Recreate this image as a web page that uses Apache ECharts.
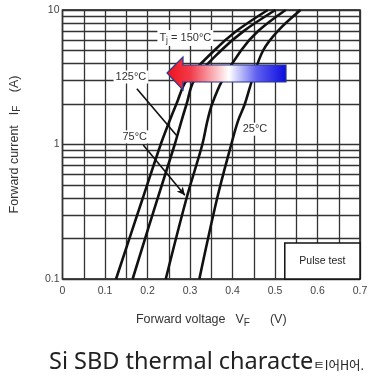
<!DOCTYPE html>
<html><head><meta charset="utf-8">
<script src="https://cdn.jsdelivr.net/npm/echarts@6/dist/echarts.min.js"></script>
<style>html,body{margin:0;padding:0;background:#fff}#c{width:373px;height:379px}</style>
</head><body><div id="c"></div>
<script>
// Data
var currents = [0.1, 0.4, 1, 1.5, 2, 3, 5, 7, 10];              // IF (A)
var vf150 = [0.126, 0.189, 0.231, 0.252, 0.268, 0.292, 0.357, 0.410, 0.483];
var vf125 = [0.165, 0.224, 0.264, 0.280, 0.292, 0.310, 0.373, 0.427, 0.501];
var vf75  = [0.243, 0.292, 0.329, 0.341, 0.352, 0.376, 0.420, 0.461, 0.525];
var vf25  = [0.322, 0.364, 0.397, 0.413, 0.429, 0.446, 0.472, 0.507, 0.560];
var xTicks = [0, 0.1, 0.2, 0.3, 0.4, 0.5, 0.6, 0.7];
var yTicks = [0.1, 1, 10];
var minorY = [0.2,0.3,0.4,0.5,0.6,0.7,0.8,0.9,2,3,4,5,6,7,8,9];

function pairs(v){ return v.map(function(x,i){ return [x, currents[i]]; }); }

var chart = echarts.init(document.getElementById('c'));
var F = '"Liberation Sans", Arial, sans-serif';
function curve(name, v){
  return { name: name, type: 'line', data: pairs(v), smooth: 0.35, showSymbol: false, z: 5,
    lineStyle: { color: '#111', width: 2.6 }, silent: true };
}
var lblStyle = { color: '#333', fontSize: 11, fontFamily: F, backgroundColor: '#fff', padding: [1, 2] };
var nameRich = { a: { fontSize: 12.5, color: '#333', fontFamily: F }, s: { fontSize: 10, color: '#333', fontFamily: F, padding: [6,0,0,0] } };

var option = {
  animation: false,
  backgroundColor: '#fff',
  grid: { left: 61, right: 13, top: 10, bottom: 100, show: true, borderColor: '#111', borderWidth: 1.5, backgroundColor: 'transparent' },
  xAxis: {
    type: 'value', min: 0, max: 0.7, interval: 0.1,
    axisLine: { show: false }, axisTick: { show: false },
    axisLabel: { color: '#444', fontSize: 10.5, fontFamily: F, margin: 7,
      formatter: function(v){ var t = xTicks.filter(function(a){return Math.abs(a-v)<1e-6;}); return t.length? String(t[0]) : ''; } },
    splitLine: { show: true, lineStyle: { color: '#333', width: 1.3 } },
    minorTick: { show: false, splitNumber: 2 },
    minorSplitLine: { show: true, lineStyle: { color: '#333', width: 1.3 } },
    name: '{a|Forward voltage}   {a|V}{s|F}      {a|(V)}', nameLocation: 'middle', nameGap: 33,
    nameTextStyle: { rich: nameRich }
  },
  yAxis: {
    type: 'log', logBase: 10, min: 0.1, max: 10,
    axisLine: { show: false }, axisTick: { show: false },
    axisLabel: { color: '#444', fontSize: 10.5, fontFamily: F, margin: 3,
      formatter: function(v){ var t = yTicks.filter(function(a){return Math.abs(a-v)/a<1e-6;}); return t.length? String(t[0]) : ''; } },
    splitLine: { show: true, lineStyle: { color: '#333', width: 1.3 } },
    name: '{a|Forward current}   {a|I}{s|F}    {a|(A)}', nameLocation: 'middle', nameGap: 40, nameRotate: 90,
    nameTextStyle: { rich: nameRich }
  },
  series: [
    { name: 'grid', type: 'line', data: [], z: 1, silent: true,
      markLine: { silent: true, symbol: 'none', label: { show: false }, animation: false,
        lineStyle: { color: '#333', width: 1.3, type: 'solid' },
        data: minorY.map(function(v){ return { yAxis: v }; }) } },
    curve('150', vf150),
    curve('125', vf125),
    curve('75', vf75),
    curve('25', vf25),
    { name: 'notes', type: 'line', data: [], z: 8, silent: true,
      markLine: { silent: true, animation: false, label: { show: false },
        lineStyle: { color: '#111', width: 1.6, type: 'solid' },
        data: [
          [ { coord: [0.175, 2.6], symbol: 'none' }, { coord: [0.268, 1.17], symbol: 'none' } ],
          [ { coord: [0.190, 0.99], symbol: 'none' }, { coord: [0.288, 0.42], symbol: 'arrow', symbolSize: [6, 8] } ]
        ] },
      markArea: { silent: true, animation: false,
        itemStyle: { color: '#fff', borderColor: '#111', borderWidth: 1.5 },
        label: { show: true, position: 'inside', color: '#222', fontSize: 10.5, fontFamily: F },
        data: [ [ { name: 'Pulse test', coord: [0.523, 0.185] }, { coord: [0.7, 0.1] } ] ] },
      markPoint: { silent: true, animation: false, symbol: 'rect', symbolSize: 0,
        label: { show: true, position: 'inside' },
        data: [
          { coord: [0.289, 6.19], label: Object.assign({ formatter: 'T{s|j} = 150°C', rich: { s: { fontSize: 8.5, color: '#333', fontFamily: F, padding: [5,0,0,0] } } }, lblStyle) },
          { coord: [0.161, 3.18], label: Object.assign({ formatter: '125°C' }, lblStyle) },
          { coord: [0.170, 1.14], label: Object.assign({ formatter: '75°C' }, lblStyle) },
          { coord: [0.453, 1.30], label: Object.assign({ formatter: '25°C' }, lblStyle) }
        ] } }
  ],
  graphic: [
    { type: 'polygon', z: 100,
      shape: { points: [[167,73],[183,57],[183,65],[286,65],[286,82],[183,82],[183,90]] },
      style: { fill: new echarts.graphic.LinearGradient(0, 0, 1, 0, [
          { offset: 0, color: '#f0101a' }, { offset: 0.2, color: '#f23a4a' }, { offset: 0.52, color: '#ffffff' },
          { offset: 0.75, color: '#6060f0' }, { offset: 1, color: '#0a0ae0' } ]),
        stroke: '#2b3a8a', lineWidth: 1.2 } },
    { type: 'text', left: 49, top: 350, z: 100,
      style: { text: '{m|Si SBD thermal characte}{k|ㅌI어H어.}',
        rich: { m: { fontSize: 23.5, fontFamily: '"Noto Sans", sans-serif', fill: '#222' },
                k: { fontSize: 12.5, fontFamily: '"Noto Sans CJK KR", sans-serif', fill: '#222', padding: [7,0,0,0] } } } }
  ]
};
chart.setOption(option);
</script></body></html>
